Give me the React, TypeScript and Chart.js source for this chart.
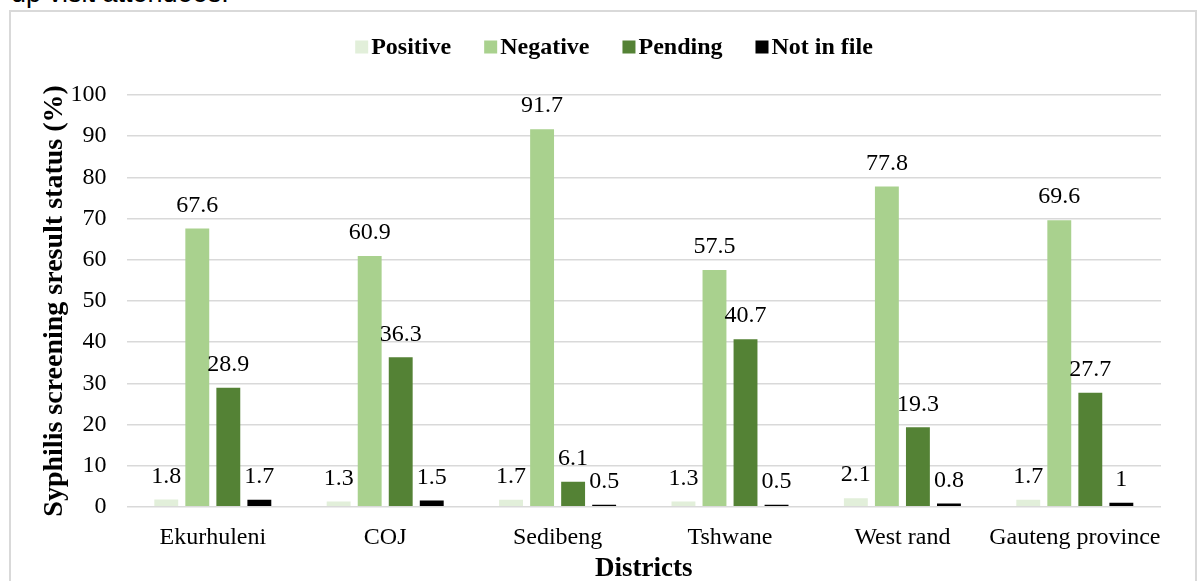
import React, { useEffect, useRef } from "react";
import { Chart, registerables } from "chart.js";

Chart.register(...registerables);

const categories = ["Ekurhuleni", "COJ", "Sedibeng", "Tshwane", "West rand", "Gauteng province"];
const positive = [1.8, 1.3, 1.7, 1.3, 2.1, 1.7];
const negative = [67.6, 60.9, 91.7, 57.5, 77.8, 69.6];
const pending = [28.9, 36.3, 6.1, 40.7, 19.3, 27.7];
const notInFile = [1.7, 1.5, 0.5, 0.5, 0.8, 1];
const seriesNames = ["Positive", "Negative", "Pending", "Not in file"];
const seriesColors = ["#e2efda", "#a9d18e", "#548235", "#000000"];

const SERIF = "'Liberation Serif', 'Times New Roman', serif";

const valueLabels = {
  id: "valueLabels",
  afterDatasetsDraw(chart: any) {
    const ctx = chart.ctx;
    ctx.save();
    ctx.font = `24px ${SERIF}`;
    ctx.fillStyle = "#000";
    ctx.textAlign = "center";
    ctx.textBaseline = "middle";
    chart.data.datasets.forEach((ds: any, i: number) => {
      const meta = chart.getDatasetMeta(i);
      meta.data.forEach((bar: any, j: number) => {
        ctx.fillText(String(ds.data[j]), bar.x, bar.y - 23);
      });
    });
    ctx.restore();
  },
};

// Legend drawn with the reference's tight box/text spacing
const customLegend = {
  id: "customLegend",
  afterDraw(chart: any) {
    const ctx = chart.ctx;
    const box = 13;
    const boxGap = 3;
    const itemGap = 33;
    const centerX = 614;
    const centerY = 47;
    ctx.save();
    ctx.font = `bold 24px ${SERIF}`;
    ctx.textBaseline = "middle";
    ctx.textAlign = "left";
    const items = chart.data.datasets.map((ds: any) => ({
      label: ds.label,
      color: ds.backgroundColor,
      w: ctx.measureText(ds.label).width,
    }));
    const total =
      items.reduce((s: number, it: any) => s + box + boxGap + it.w, 0) + itemGap * (items.length - 1);
    let x = centerX - total / 2;
    items.forEach((it: any) => {
      ctx.fillStyle = it.color;
      ctx.fillRect(x, centerY - box / 2, box, box);
      ctx.fillStyle = "#000";
      ctx.fillText(it.label, x + box + boxGap, centerY + 1);
      x += box + boxGap + it.w + itemGap;
    });
    ctx.restore();
  },
};

export default function App() {
  const ref = useRef<HTMLCanvasElement>(null);
  useEffect(() => {
    const values = [positive, negative, pending, notInFile];
    const chart = new Chart(ref.current!, {
      type: "bar",
      data: {
        labels: categories,
        datasets: values.map((d, i) => ({
          label: seriesNames[i],
          data: d,
          backgroundColor: seriesColors[i],
          borderWidth: 0,
          categoryPercentage: 0.72,
          barPercentage: 0.77,
        })),
      },
      options: {
        animation: false,
        responsive: false,
        maintainAspectRatio: false,
        layout: { padding: { left: 38, right: 39, top: 95, bottom: 0 } },
        plugins: {
          legend: { display: false },
          tooltip: { enabled: false },
        },
        scales: {
          x: {
            grid: { display: false },
            border: { display: false },
            ticks: {
              color: "#000",
              font: { family: SERIF, size: 24 },
              padding: 9,
              maxRotation: 0,
              minRotation: 0,
              autoSkip: false,
            },
            title: {
              display: true,
              text: "Districts",
              color: "#000",
              font: { family: SERIF, size: 27, weight: "bold" },
              padding: { top: -9, bottom: -4 },
            },
          },
          y: {
            min: 0,
            max: 100,
            ticks: { stepSize: 10, color: "#000", font: { family: SERIF, size: 24 }, padding: 20 },
            grid: { color: "#d9d9d9", lineWidth: 1.5, drawTicks: false },
            border: { display: false },
            title: {
              display: true,
              text: "Syphilis screening sresult status (%)",
              color: "#000",
              font: { family: SERIF, size: 28, weight: "bold" },
              padding: { top: 0, bottom: -21 },
            },
          },
        },
      },
      plugins: [valueLabels, customLegend],
    });
    return () => chart.destroy();
  }, []);

  return (
    <div style={{ position: "fixed", left: 0, top: 0, width: 1200, height: 581, overflow: "hidden", background: "#fff" }}>
      <div
        style={{
          position: "absolute",
          left: 0,
          top: -22,
          fontFamily: "'Liberation Sans', Arial, sans-serif",
          fontSize: 27,
          color: "#000",
          paddingLeft: 11,
          whiteSpace: "nowrap",
        }}
      >
        up visit attendees.
      </div>
      <div
        style={{
          position: "absolute",
          left: 9,
          top: 10,
          width: 1188,
          height: 600,
          border: "2px solid #d9d9d9",
          boxSizing: "border-box",
        }}
      />
      <canvas ref={ref} width={1200} height={581} style={{ position: "absolute", left: 0, top: 0 }} />
    </div>
  );
}
